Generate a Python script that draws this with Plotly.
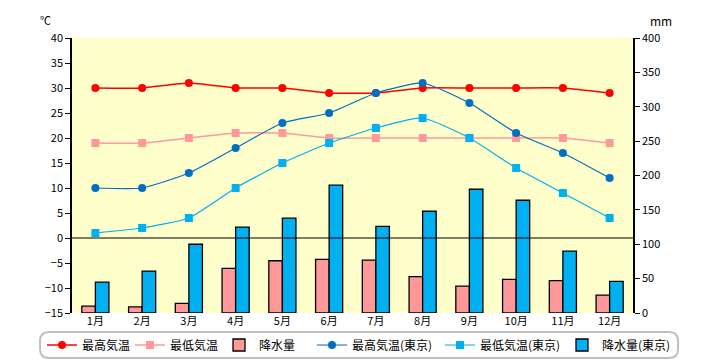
import plotly.graph_objects as go

months = ["1月", "2月", "3月", "4月", "5月", "6月", "7月", "8月", "9月", "10月", "11月", "12月"]
max_temp = [30, 30, 31, 30, 30, 29, 29, 30, 30, 30, 30, 29]
min_temp = [19, 19, 20, 21, 21, 20, 20, 20, 20, 20, 20, 19]
precip = [10, 9, 14, 65, 76, 78, 77, 53, 39, 49, 47, 26]
max_temp_tokyo = [10, 10, 13, 18, 23, 25, 29, 31, 27, 21, 17, 12]
min_temp_tokyo = [1, 2, 4, 10, 15, 19, 22, 24, 20, 14, 9, 4]
precip_tokyo = [45, 61, 100, 125, 138, 186, 126, 148, 180, 164, 90, 46]

temp_ticks = list(range(-15, 41, 5))
mm_ticks = list(range(0, 401, 50))

FONT = "Noto Sans CJK JP"

# page body has an 8px margin; figure is drawn at offset (8, 8)
OFF = 8
FW, FH = 720 - OFF, 360 - OFF

fig = go.Figure()

# bars on primary axis (mm, right side) so lines are drawn on top
fig.add_trace(go.Bar(x=months, y=precip, name="降水量", yaxis="y", legend="legend3",
                     marker=dict(color="#FF9999", line=dict(color="black", width=1.3))))
fig.add_trace(go.Bar(x=months, y=precip_tokyo, name="降水量(東京)", yaxis="y", legend="legend6",
                     marker=dict(color="#00B0F0", line=dict(color="black", width=1.3))))

fig.add_trace(go.Scatter(x=months, y=max_temp, name="最高気温", yaxis="y2", legend="legend",
                         mode="lines+markers", line=dict(color="#FF0000", width=1.5, shape="spline", smoothing=0.5),
                         marker=dict(symbol="circle", size=8, color="#FF0000")))
fig.add_trace(go.Scatter(x=months, y=min_temp, name="最低気温", yaxis="y2", legend="legend2",
                         mode="lines+markers", line=dict(color="#FF9999", width=1.5, shape="spline", smoothing=0.5),
                         marker=dict(symbol="square", size=8, color="#FF9999")))
fig.add_trace(go.Scatter(x=months, y=max_temp_tokyo, name="最高気温(東京)", yaxis="y2", legend="legend4",
                         mode="lines+markers", line=dict(color="#0070C0", width=1.2, shape="spline", smoothing=0.5),
                         marker=dict(symbol="circle", size=8, color="#0070C0")))
fig.add_trace(go.Scatter(x=months, y=min_temp_tokyo, name="最低気温(東京)", yaxis="y2", legend="legend5",
                         mode="lines+markers", line=dict(color="#00B0F0", width=1.2, shape="spline", smoothing=0.5),
                         marker=dict(symbol="square", size=8, color="#00B0F0")))

# page-pixel geometry of the plot area
L, R, T, B = 72, 633, 38, 313
W, H = R - L, B - T
def px(x):
    return (x - L) / W
def py(y):
    return (B - y) / H

x0, x1, y0, y1, r = 40, 678, 332, 358, 9
path = (f"M {px(x0 + r)} {py(y0)} L {px(x1 - r)} {py(y0)} Q {px(x1)} {py(y0)} {px(x1)} {py(y0 + r)} "
        f"L {px(x1)} {py(y1 - r)} Q {px(x1)} {py(y1)} {px(x1 - r)} {py(y1)} "
        f"L {px(x0 + r)} {py(y1)} Q {px(x0)} {py(y1)} {px(x0)} {py(y1 - r)} "
        f"L {px(x0)} {py(y0 + r)} Q {px(x0)} {py(y0)} {px(x0 + r)} {py(y0)} Z")

legend_starts = [42, 130, 219, 312, 440, 562]  # page x of each legend entry
legend_names = ["legend", "legend2", "legend3", "legend4", "legend5", "legend6"]
leg_y = 1 - (345 - OFF) / FH
legends = {}
for nm, xs in zip(legend_names, legend_starts):
    legends[nm] = dict(orientation="h", xref="container", yref="container",
                       x=(xs - OFF) / FW, xanchor="left", y=leg_y, yanchor="middle",
                       font=dict(size=12, family=FONT), bgcolor="rgba(0,0,0,0)", borderwidth=0,
                       itemwidth=30)

fig.update_layout(
    width=FW, height=FH,
    margin=dict(l=L - OFF, r=720 - R, t=T - OFF, b=360 - B, autoexpand=False),
    paper_bgcolor="white", plot_bgcolor="#FFFFCC",
    font=dict(family=FONT, size=11, color="black"),
    barmode="group", bargap=0.42, bargroupgap=0,
    showlegend=True,
    xaxis=dict(showgrid=False, showline=False, ticks="", tickfont=dict(size=11),
               range=[-0.5, len(months) - 0.5], autorange=False),
    yaxis=dict(side="right", range=[0, 400], tickvals=mm_ticks, showgrid=False, zeroline=False,
               showline=True, linecolor="black", linewidth=1.5, ticks="outside", ticklen=5,
               tickcolor="black", tickfont=dict(size=11)),
    yaxis2=dict(side="left", overlaying="y", range=[-15, 40], tickvals=temp_ticks, showgrid=False,
                zeroline=False, showline=True, linecolor="black", linewidth=1.5, ticks="outside",
                ticklen=5, tickcolor="black", tickfont=dict(size=11)),
    shapes=[
        dict(type="line", xref="paper", x0=0, x1=1, yref="y2", y0=0, y1=0,
             line=dict(color="black", width=1.2), layer="above"),
        dict(type="path", xref="paper", yref="paper", path=path,
             line=dict(color="#C0C0C0", width=2), fillcolor="rgba(0,0,0,0)", layer="below"),
    ],
    annotations=[
        dict(text="℃", x=px(45), y=py(20), xref="paper", yref="paper", showarrow=False,
             font=dict(size=11), xanchor="center", yanchor="middle"),
        dict(text="mm", x=px(661), y=py(20), xref="paper", yref="paper", showarrow=False,
             font=dict(size=12), xanchor="center", yanchor="middle"),
    ],
    **legends,
)

fig.write_html("out.html")
